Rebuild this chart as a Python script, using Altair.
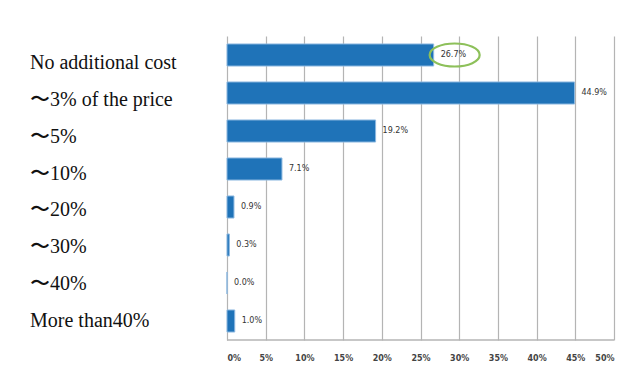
import altair as alt
import pandas as pd

categories = ["No additional cost", "〜3% of the price", "〜5%", "〜10%",
              "〜20%", "〜30%", "〜40%", "More than40%"]
values = [26.7, 44.9, 19.2, 7.1, 0.9, 0.3, 0.0, 1.0]
labels = ["26.7%", "44.9%", "19.2%", "7.1%", "0.9%", "0.3%", "0.0%", "1.0%"]
tick_values = [0, 5, 10, 15, 20, 25, 30, 35, 40, 45, 50]
highlight = "No additional cost"

df = pd.DataFrame({"cat": categories, "val": values, "lab": labels})

W, H = 387, 304

xaxis = alt.Axis(values=tick_values, labelExpr="datum.value + '%'",
                 grid=True, gridColor="#B4B4B4", gridWidth=1.2,
                 domain=False, ticks=False, labelPadding=14, labelFontSize=8,
                 labelFont="DejaVu Sans", labelFontWeight="bold",
                 labelColor="#444", title=None, labelOverlap=False)
xs = alt.X("val:Q", scale=alt.Scale(domain=[0, 50], nice=False), axis=xaxis)
ys = alt.Y("cat:N", sort=categories,
           scale=alt.Scale(paddingInner=0.42, paddingOuter=0.21),
           axis=None)

base = alt.Chart(df)

bars = base.mark_bar(color="#1F73B8", stroke="#8CB8E0", strokeWidth=1).encode(
    x=xs, y=ys)

vals = base.mark_text(align="left", baseline="middle", dx=7, fontSize=8,
                      font="DejaVu Sans", color="#333").encode(
    x=xs, y=ys, text="lab:N")

ellipse = base.transform_filter(alt.datum.cat == highlight).mark_point(
    shape="M-1,0 A1,0.46 0 1,0 1,0 A1,0.46 0 1,0 -1,0",
    size=2500, filled=False, stroke="#8DC05A", strokeWidth=2.2,
    xOffset=21, opacity=1).encode(x=xs, y=ys)

cat_labels = base.mark_text(align="left", baseline="middle",
                            font="Liberation Serif", fontSize=20,
                            color="#111").encode(
    x=alt.value(-197),
    y=alt.Y("cat:N", sort=categories,
            scale=alt.Scale(type="point", range=[27, 285], padding=0),
            axis=None),
    text="cat:N")

# frame / baseline: a 0..1 vertical helper scale (0 = plot bottom, 1 = frame top)
fscale = alt.Scale(domain=[0, 1], range=[H, -30])
one = base.transform_filter(alt.datum.cat == highlight)
bottom = one.mark_rule(color="#B4B4B4", strokeWidth=1.5).encode(
    x=alt.value(0), x2=alt.value(W),
    y=alt.YDatum(0, scale=fscale, axis=None))
frame_top = one.mark_rule(color="#7A7A7A", strokeWidth=1.6).encode(
    x=alt.value(-223), x2=alt.value(420),
    y=alt.YDatum(1, scale=fscale, axis=None))
frame_left = one.mark_rule(color="#7A7A7A", strokeWidth=1.6).encode(
    x=alt.value(-223),
    y=alt.YDatum(1, scale=fscale, axis=None),
    y2=alt.Y2Datum(-0.2))

main = alt.layer(bars, vals, ellipse).properties(width=W, height=H)

chart = alt.layer(main, cat_labels, bottom, frame_top, frame_left).resolve_scale(
    y="independent").properties(
    width=W, height=H,
    autosize=alt.AutoSizeParams(type="none"),
    padding={"left": 219, "top": 28, "right": 8, "bottom": 30},
    background="white",
).configure_view(stroke=None)

chart.save("out.html", embed_options={"renderer": "svg", "actions": False})
